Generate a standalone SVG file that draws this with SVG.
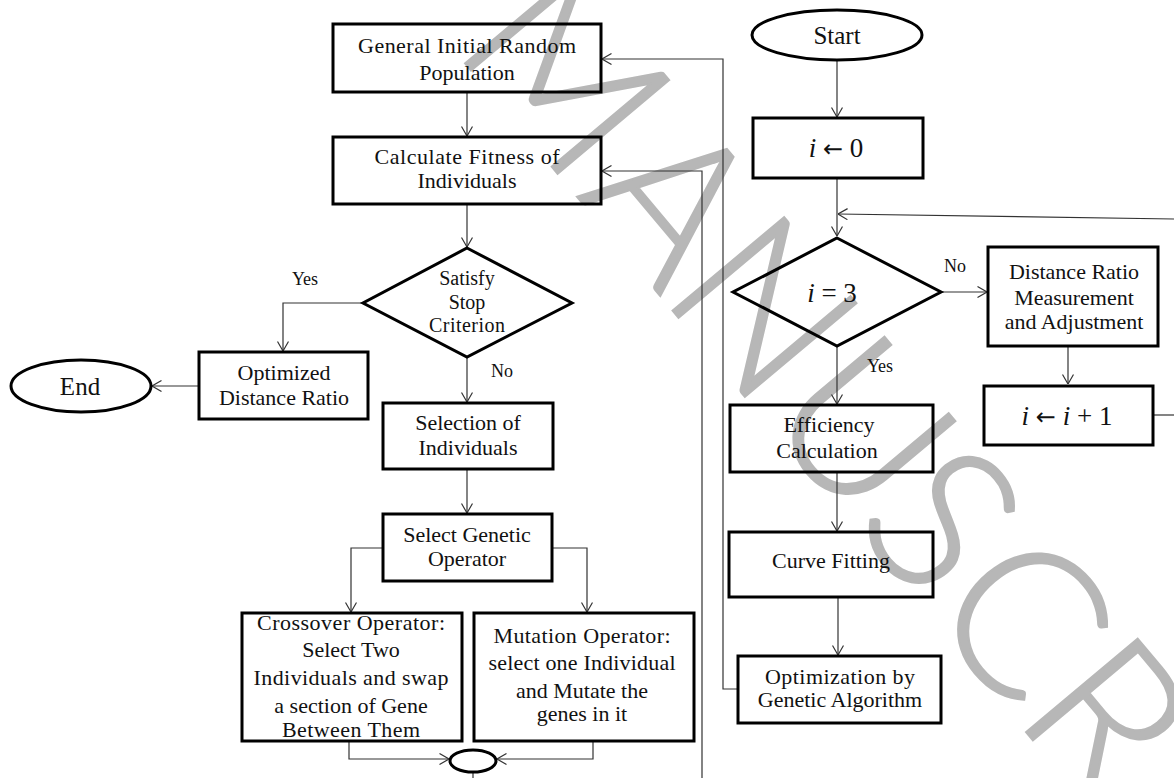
<svg xmlns="http://www.w3.org/2000/svg" width="1174" height="778" viewBox="0 0 1174 778">
<defs>
<style>
.t{font-family:"Liberation Serif","Times New Roman",serif;font-size:22px;text-anchor:middle;fill:#111}
.dt{font-size:20px}
.lbl{font-size:18px}
.term{font-size:25px}
.math{font-size:27px}
.it{font-style:italic}
.ar{font-family:"DejaVu Sans",sans-serif;font-size:24px}
.box{fill:none;stroke:#000;stroke-width:3}
.ln{fill:none;stroke:#333;stroke-width:1.2}
.arr{marker-end:url(#ah)}
.wm{font-family:Lato,"Open Sans",sans-serif;font-weight:300;font-size:206px;fill:#b7b7b7;stroke:#b7b7b7;stroke-width:2;text-anchor:middle}
</style>
<marker id="ah" viewBox="0 0 10 12" refX="10" refY="6" markerWidth="10" markerHeight="12" orient="auto" markerUnits="userSpaceOnUse">
<path d="M0.5,0.5 L10,6 L0.5,11.5" fill="none" stroke="#333" stroke-width="1.2"/>
</marker>
</defs>
<rect width="1174" height="778" fill="#fff"/>
<text class="wm" transform="translate(969,664) rotate(50)" x="-712 -545 -405 -250 -128 0 130 230 300 400" y="0">MANUSCRIPT</text>

<g id="connectors">
<path class="ln arr" d="M467,92 V136"/>
<path class="ln arr" d="M467,204 V247"/>
<path class="ln arr" d="M363,303 H283 V351"/>
<path class="ln arr" d="M199,386 H152"/>
<path class="ln arr" d="M467,357 V402"/>
<path class="ln arr" d="M467,469 V513"/>
<path class="ln arr" d="M383,548 H351 V612"/>
<path class="ln arr" d="M552,548 H587 V612"/>
<path class="ln arr" d="M349,741 V759 H449"/>
<path class="ln arr" d="M593,741 V759 H497"/>
<path class="ln" d="M473,772 V778"/>
<path class="ln arr" d="M702,778 V171 H602"/>
<path class="ln arr" d="M738,689 H723 V59 H602"/>
<path class="ln arr" d="M837,60 V117"/>
<path class="ln arr" d="M837,178 V236"/>
<path class="ln arr" d="M1174,219 L838,214"/>
<path class="ln arr" d="M940,292 H987"/>
<path class="ln arr" d="M1068,346 V384"/>
<path class="ln" d="M1153,415 H1174"/>
<path class="ln arr" d="M837,346 V404"/>
<path class="ln arr" d="M837,472 V531"/>
<path class="ln arr" d="M838,597 V655"/>
</g>

<g id="n-general">
<rect class="box" x="333" y="24" width="268" height="68"/>
<text class="t" x="467" y="53" textLength="218" lengthAdjust="spacing">General Initial Random</text>
<text class="t" x="467" y="80">Population</text>
</g>
<g id="n-fitness">
<rect class="box" x="333" y="137" width="268" height="67"/>
<text class="t" x="467" y="164" textLength="185" lengthAdjust="spacing">Calculate Fitness of</text>
<text class="t" x="467" y="188">Individuals</text>
</g>
<g id="n-stop">
<polygon class="box" points="467,248 572,303 467,357 363,303"/>
<text class="t dt" x="467" y="285">Satisfy</text>
<text class="t dt" x="467" y="309">Stop</text>
<text class="t dt" x="467" y="332" textLength="76" lengthAdjust="spacing">Criterion</text>
</g>
<g id="l-yes1"><text class="t lbl" x="305" y="285">Yes</text></g>
<g id="l-no1"><text class="t lbl" x="502" y="377">No</text></g>
<g id="n-optimized">
<rect class="box" x="199" y="352" width="169" height="67"/>
<text class="t" x="284" y="380">Optimized</text>
<text class="t" x="284" y="405">Distance Ratio</text>
</g>
<g id="n-end">
<ellipse class="box" cx="81" cy="386" rx="70" ry="26"/>
<text class="t term" x="80" y="395">End</text>
</g>
<g id="n-selection">
<rect class="box" x="383" y="403" width="170" height="66"/>
<text class="t" x="468" y="430">Selection of</text>
<text class="t" x="468" y="455">Individuals</text>
</g>
<g id="n-operator">
<rect class="box" x="383" y="514" width="169" height="67"/>
<text class="t" x="467" y="542">Select Genetic</text>
<text class="t" x="467" y="566">Operator</text>
</g>
<g id="n-crossover">
<rect class="box" x="242" y="613" width="220" height="128"/>
<text class="t" x="351" y="630" textLength="188" lengthAdjust="spacing">Crossover Operator:</text>
<text class="t" x="351" y="657">Select Two</text>
<text class="t" x="351" y="685" textLength="195" lengthAdjust="spacing">Individuals  and swap</text>
<text class="t" x="351" y="713">a section of Gene</text>
<text class="t" x="351" y="737" textLength="138" lengthAdjust="spacing">Between  Them</text>
</g>
<g id="n-mutation">
<rect class="box" x="474" y="613" width="220" height="128"/>
<text class="t" x="582" y="643" textLength="177" lengthAdjust="spacing">Mutation Operator:</text>
<text class="t" x="582" y="670" textLength="187" lengthAdjust="spacing">select one Individual</text>
<text class="t" x="582" y="698">and Mutate the</text>
<text class="t" x="582" y="721">genes in it</text>
</g>
<g id="n-merge">
<ellipse class="box" cx="473" cy="761" rx="23" ry="11"/>
</g>

<g id="n-start">
<ellipse class="box" cx="837" cy="35" rx="85" ry="25"/>
<text class="t term" x="837" y="44">Start</text>
</g>
<g id="n-init">
<rect class="box" x="753" y="118" width="170" height="60"/>
<text class="t math" x="836" y="157"><tspan class="it">i</tspan> <tspan class="ar">←</tspan> 0</text>
</g>
<g id="n-check">
<polygon class="box" points="837,238 941,292 837,346 733,292"/>
<text class="t math" x="832" y="302"><tspan class="it">i</tspan>  =  3</text>
</g>
<g id="l-no2"><text class="t lbl" x="955" y="272">No</text></g>
<g id="l-yes2"><text class="t lbl" x="880" y="372">Yes</text></g>
<g id="n-distance">
<rect class="box" x="988" y="247" width="170" height="99"/>
<text class="t" x="1074" y="279">Distance Ratio</text>
<text class="t" x="1074" y="305">Measurement</text>
<text class="t" x="1074" y="329">and Adjustment</text>
</g>
<g id="n-increment">
<rect class="box" x="984" y="386" width="169" height="59"/>
<text class="t math" x="1067" y="425"><tspan class="it">i</tspan> <tspan class="ar">←</tspan> <tspan class="it">i</tspan> + 1</text>
</g>
<g id="n-efficiency">
<rect class="box" x="730" y="405" width="203" height="67"/>
<text class="t" x="829" y="432">Efficiency</text>
<text class="t" x="827" y="458">Calculation</text>
</g>
<g id="n-curve">
<rect class="box" x="729" y="532" width="204" height="65"/>
<text class="t" x="831" y="568">Curve Fitting</text>
</g>
<g id="n-ga">
<rect class="box" x="738" y="656" width="203" height="67"/>
<text class="t" x="840" y="684" textLength="150" lengthAdjust="spacing">Optimization by</text>
<text class="t" x="840" y="707">Genetic Algorithm</text>
</g>
</svg>
